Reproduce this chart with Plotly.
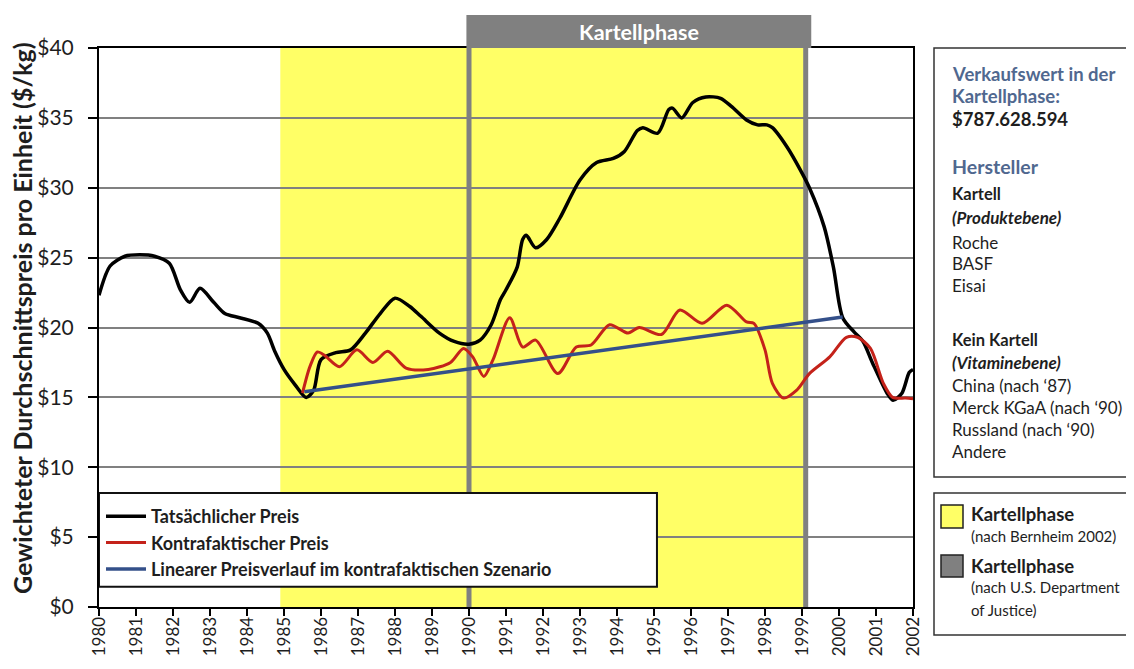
import plotly.graph_objects as go

# ---- values ----
actual_years = [1980.0, 1980.3, 1980.7, 1981.1, 1981.5, 1981.9, 1982.2, 1982.45, 1982.73,
                1983.1, 1983.4, 1983.8, 1984.3, 1984.55, 1984.75, 1985.0, 1985.3, 1985.6,
                1985.8, 1986.0, 1986.4, 1986.8, 1987.2, 1987.6, 1988.0, 1988.4, 1988.7,
                1989.2, 1989.6, 1990.0, 1990.3, 1990.6, 1990.85, 1991.0, 1991.3, 1991.45,
                1991.55, 1991.8, 1992.1, 1992.45, 1993.0, 1993.45, 1993.9, 1994.2, 1994.55,
                1994.7, 1995.1, 1995.4, 1995.5, 1995.75, 1996.05, 1996.4, 1996.8, 1997.1,
                1997.5, 1997.8, 1998.05, 1998.2, 1998.6, 1998.95, 1999.2, 1999.6, 1999.85,
                2000.1, 2000.4, 2000.65, 2000.9, 2001.3, 2001.46, 2001.7, 2001.9, 2002.0]
actual_price = [22.3, 24.4, 25.1, 25.2, 25.1, 24.6, 22.7, 21.8, 22.8,
                21.8, 21.0, 20.7, 20.3, 19.6, 18.3, 17.0, 15.9, 15.0,
                15.5, 17.7, 18.2, 18.4, 19.6, 21.0, 22.1, 21.5, 20.8,
                19.6, 19.0, 18.8, 19.1, 20.2, 22.0, 22.7, 24.3, 26.3,
                26.6, 25.7, 26.3, 27.8, 30.55, 31.8, 32.1, 32.6, 34.1,
                34.3, 33.9, 35.6, 35.7, 35.0, 36.1, 36.5, 36.4, 35.8,
                34.85, 34.5, 34.5, 34.3, 32.9, 31.3, 30.0, 27.2, 24.3,
                20.7, 19.7, 19.0, 17.5, 15.3, 14.8, 15.3, 16.8, 17.0]

counter_years = [1985.5, 1985.7, 1985.9, 1986.1, 1986.5, 1986.97, 1987.4, 1987.8, 1988.3,
                 1988.9, 1989.5, 1989.85, 1990.1, 1990.4, 1990.65, 1991.1, 1991.45, 1991.8,
                 1992.4, 1992.9, 1993.3, 1993.8, 1994.3, 1994.6, 1995.2, 1995.7, 1996.3,
                 1996.97, 1997.5, 1997.7, 1998.0, 1998.2, 1998.5, 1998.85, 1999.2, 1999.75,
                 2000.2, 2000.5, 2000.85, 2001.2, 2001.45, 2001.8, 2002.0]
counter_price = [15.3, 17.2, 18.25, 18.0, 17.2, 18.4, 17.5, 18.3, 17.1,
                 17.0, 17.5, 18.5, 17.9, 16.5, 17.7, 20.7, 18.6, 19.1,
                 16.7, 18.6, 18.75, 20.2, 19.6, 20.0, 19.5, 21.25, 20.3,
                 21.6, 20.4, 20.3, 18.4, 16.0, 14.95, 15.5, 16.7, 17.9,
                 19.3, 19.3, 18.5, 16.0, 15.0, 14.95, 14.9]

linear_years = [1985.55, 2000.1]
linear_price = [15.4, 20.75]

year_ticks = list(range(1980, 2003))
price_ticks = [0, 5, 10, 15, 20, 25, 30, 35, 40]
price_labels = ["$" + str(v) for v in price_ticks]

bernheim_phase = [1984.9, 1999.05]
doj_phase = [1990.0, 1999.1]

series_names = ["Tatsächlicher Preis", "Kontrafaktischer Preis",
                "Linearer Preisverlauf im kontrafaktischen Szenario"]
sales_value = "$787.628.594"
cartel_members = ["Roche", "BASF", "Eisai"]
other_producers = ["China (nach ‘87)", "Merck KGaA (nach ‘90)", "Russland (nach ‘90)", "Andere"]

# ---- page geometry (page body adds 8px; keep the figure inside the window) ----
OFF = 8
W, H = 1134 - 2 * OFF, 669 - 2 * OFF
PLOT_L, PLOT_R, PLOT_T, PLOT_B = 99, 913, 48, 607   # page pixels of the plot area
L, T = PLOT_L - OFF, PLOT_T - OFF
R, B = W - (PLOT_R - OFF), H - (PLOT_B - OFF)
FONT = "Lato"
YELLOW = "#FFFF66"
GREY = "#808080"
BLUE_GREY = "#50688F"
INK = "#1e1e1e"


def px(x):
    # page pixel -> paper x
    return (x - PLOT_L) / (PLOT_R - PLOT_L)


def py(y):
    # page pixel -> paper y
    return (PLOT_B - y) / (PLOT_B - PLOT_T)


fig = go.Figure()
fig.add_trace(go.Scatter(x=actual_years, y=actual_price, name=series_names[0], mode="lines",
                         line=dict(color="black", width=3.5, shape="spline", smoothing=0.8)))
fig.add_trace(go.Scatter(x=counter_years, y=counter_price, name=series_names[1], mode="lines",
                         line=dict(color="#C4221A", width=3, shape="spline", smoothing=0.8)))
fig.add_trace(go.Scatter(x=linear_years, y=linear_price, name=series_names[2], mode="lines",
                         line=dict(color="#34508A", width=3.5)))

shapes = [
    # yellow cartel phase (Bernheim)
    dict(type="rect", xref="x", yref="y", x0=bernheim_phase[0], x1=bernheim_phase[1], y0=0, y1=40,
         fillcolor=YELLOW, line=dict(width=0), layer="below"),
    # grey DoJ phase borders + header
    dict(type="line", xref="x", yref="y", x0=doj_phase[0], x1=doj_phase[0], y0=0, y1=40,
         line=dict(color=GREY, width=5), layer="between"),
    dict(type="line", xref="x", yref="y", x0=doj_phase[1], x1=doj_phase[1], y0=0, y1=40,
         line=dict(color=GREY, width=5), layer="between"),
    dict(type="rect", xref="x", yref="paper", x0=doj_phase[0] - 0.07, x1=doj_phase[1] + 0.15,
         y0=1.0, y1=py(15), fillcolor=GREY, line=dict(width=0)),
    # legend box
    dict(type="rect", xref="x", yref="y", x0=1980, x1=1995.08, y0=1.45, y1=8.15,
         fillcolor="white", line=dict(color="#111", width=2), layer="above"),
    # side panels
    dict(type="rect", xref="paper", yref="paper", x0=px(934), x1=px(1145), y0=py(477), y1=py(48),
         fillcolor="white", line=dict(color="#333", width=1.5)),
    dict(type="rect", xref="paper", yref="paper", x0=px(934), x1=px(1145), y0=py(635), y1=py(493),
         fillcolor="white", line=dict(color="#333", width=1.5)),
    dict(type="rect", xref="paper", yref="paper", x0=px(941), x1=px(963), y0=py(528), y1=py(505),
         fillcolor=YELLOW, line=dict(color="#222", width=1.5)),
    dict(type="rect", xref="paper", yref="paper", x0=px(941), x1=px(963), y0=py(577), y1=py(555),
         fillcolor=GREY, line=dict(color="#222", width=1.5)),
]

annotations = [
    dict(text="<b>Kartellphase</b>", xref="x", yref="paper", x=sum(doj_phase) / 2 + 0.04, y=py(32),
         yanchor="middle", showarrow=False, font=dict(family=FONT, size=21.5, color="white")),
    dict(text="<b>Gewichteter Durchschnittspreis pro Einheit ($/kg)</b>", textangle=-90,
         xref="paper", yref="paper", x=px(22), y=py(318), xanchor="center", yanchor="middle",
         showarrow=False, font=dict(family=FONT, size=25, color=INK)),
]

# side panel text: (text, x pixel, y pixel, size, colour)
panel_lines = [
    ("<b>Verkaufswert in der</b>", 950, 74, 18.5, BLUE_GREY),
    ("<b>Kartellphase:</b>", 950, 96, 18.5, BLUE_GREY),
    ("<b>" + sales_value + "</b>", 950, 119, 18.5, INK),
    ("<b>Hersteller</b>", 950, 166, 19.5, BLUE_GREY),
    ("<b>Kartell</b>", 950, 194, 16.5, INK),
    ("<b><i>(Produktebene)</i></b>", 950, 217, 17, INK),
]
for i, name in enumerate(cartel_members):
    panel_lines.append((name, 950, 242 + 21.5 * i, 17, INK))
panel_lines += [
    ("<b>Kein Kartell</b>", 950, 340, 16.5, INK),
    ("<b><i>(Vitaminebene)</i></b>", 950, 362, 17, INK),
]
for i, name in enumerate(other_producers):
    panel_lines.append((name, 950, 385 + 22.3 * i, 17, INK))
panel_lines += [
    ("<b>Kartellphase</b>", 969, 514, 18.5, INK),
    ("(nach Bernheim 2002)", 969, 536, 15, INK),
    ("<b>Kartellphase</b>", 969, 566, 18.5, INK),
    ("(nach U.S. Department", 969, 587, 15, INK),
    ("of Justice)", 969, 610, 15, INK),
]
for text, xpix, ypix, size, colour in panel_lines:
    annotations.append(dict(text=text, xref="paper", yref="paper", x=px(xpix), y=py(ypix),
                            xanchor="left", yanchor="middle", showarrow=False,
                            font=dict(family=FONT, size=size, color=colour)))

fig.update_layout(
    width=W, height=H,
    margin=dict(l=L, r=R, t=T, b=B, autoexpand=False),
    paper_bgcolor="white", plot_bgcolor="white",
    font=dict(family=FONT, color=INK),
    shapes=shapes,
    annotations=annotations,
    showlegend=True,
    legend=dict(x=px(101), y=py(498), xanchor="left", yanchor="top", itemwidth=40,
                bgcolor="rgba(0,0,0,0)", borderwidth=0,
                font=dict(family=FONT, size=18, color=INK, weight="bold")),
    xaxis=dict(range=[1980, 2002], tickvals=year_ticks, tickangle=-90,
               ticks="outside", ticklen=7, tickwidth=1.5, tickcolor="black",
               ticklabelstandoff=-6, automargin=False,
               showline=True, linecolor="black", linewidth=2, mirror=True,
               showgrid=False, zeroline=False,
               tickfont=dict(family=FONT, size=17, color=INK)),
    yaxis=dict(range=[0, 40], tickvals=price_ticks, ticktext=price_labels,
               ticks="outside", ticklen=9, tickwidth=1.5, tickcolor="black",
               ticklabelstandoff=10, automargin=False,
               showline=True, linecolor="black", linewidth=2, mirror=True,
               showgrid=True, gridcolor=GREY, gridwidth=1.5, zeroline=False,
               tickfont=dict(family=FONT, size=21, color=INK)),
)

fig.write_html("out.html")
